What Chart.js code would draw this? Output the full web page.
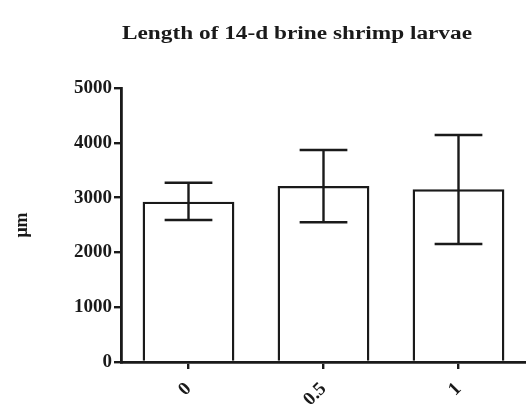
<!DOCTYPE html>
<html>
<head>
<meta charset="utf-8">
<script src="https://cdn.jsdelivr.net/npm/chart.js@4"></script>
<style>
  html, body { margin: 0; padding: 0; background: #fff; }
  #wrap { width: 526px; height: 405px; }
</style>
</head>
<body>
<div id="wrap"><canvas id="chart"></canvas></div>
<script>
// data
const categories = ['0', '0.5', '1'];
const meanLength = [2925, 3212, 3151];
const errUpper = [3272, 3869, 4142];
const errLower = [2591, 2549, 2153];
const yTicks = [0, 1000, 2000, 3000, 4000, 5000];

const chartTitle = 'Length of 14-d brine shrimp larvae';

// error bars drawn from the scales
const errorBars = {
  id: 'errorBars',
  afterDatasetsDraw(chart) {
    const ctx = chart.ctx;
    const y = chart.scales.y;
    const meta = chart.getDatasetMeta(0);
    ctx.save();
    ctx.strokeStyle = '#1a1a1a';
    ctx.lineWidth = 2.4;
    meta.data.forEach((bar, i) => {
      const x = bar.x;
      const top = y.getPixelForValue(errUpper[i]);
      const bot = y.getPixelForValue(errLower[i]);
      const half = bar.width * 0.26;
      ctx.beginPath();
      ctx.moveTo(x, top); ctx.lineTo(x, bot);
      ctx.moveTo(x - half, top); ctx.lineTo(x + half, top);
      ctx.moveTo(x - half, bot); ctx.lineTo(x + half, bot);
      ctx.stroke();
    });
    ctx.restore();
  }
};

// title is stretched a bit like the original
const wideTitle = {
  id: 'wideTitle',
  afterDraw(chart) {
    const ctx = chart.ctx;
    ctx.save();
    ctx.font = 'bold 18px "Liberation Serif"';
    ctx.fillStyle = '#1a1a1a';
    ctx.textBaseline = 'middle';
    const w = ctx.measureText(chartTitle).width;
    const target = 350;
    ctx.translate(122, 34);
    ctx.scale(target / w, 1);
    ctx.fillText(chartTitle, 0, 0);
    ctx.restore();
  }
};

new Chart(document.getElementById('chart'), {
  type: 'bar',
  data: {
    labels: categories,
    datasets: [{
      data: meanLength,
      backgroundColor: '#ffffff',
      borderColor: '#1a1a1a',
      borderWidth: 2.4,
      borderSkipped: 'bottom',
      barPercentage: 0.68,
      categoryPercentage: 1.0
    }]
  },
  options: {
    responsive: true,
    maintainAspectRatio: false,
    animation: false,
    layout: { padding: { top: 88, right: 0, left: 0, bottom: 0 } },
    plugins: {
      legend: { display: false },
      tooltip: { enabled: false }
    },
    scales: {
      x: {
        afterFit: s => { s.height = 43; },
        grid: { display: true, offset: false, drawOnChartArea: false, tickLength: 7, color: '#1a1a1a', lineWidth: 2.4 },
        border: { display: true, color: '#1a1a1a', width: 2.8 },
        ticks: {
          color: '#1a1a1a',
          font: { family: 'Liberation Serif', weight: 'bold', size: 19 },
          minRotation: 45,
          maxRotation: 45,
          padding: 9
        }
      },
      y: {
        min: 0,
        max: 5000,
        afterFit: s => { s.width = 121; },
        afterBuildTicks: s => { s.ticks = yTicks.map(v => ({ value: v })); },
        grid: { display: true, drawOnChartArea: false, tickLength: 7, color: '#1a1a1a', lineWidth: 2.4 },
        border: { display: true, color: '#1a1a1a', width: 2.8 },
        ticks: {
          color: '#1a1a1a',
          font: { family: 'Liberation Serif', weight: 'bold', size: 19 },
          padding: 2,
          callback: v => String(v)
        },
        title: {
          display: true,
          text: 'μm',
          color: '#1a1a1a',
          font: { family: 'Liberation Serif', weight: 'bold', size: 18 },
          padding: { top: 12, bottom: 0 }
        }
      }
    }
  },
  plugins: [errorBars, wideTitle]
});
</script>
</body>
</html>
